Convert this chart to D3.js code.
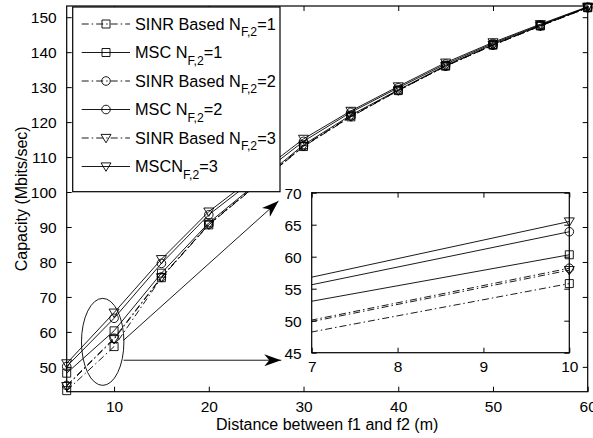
<!DOCTYPE html>
<html><head><meta charset="utf-8">
<script src="https://cdn.jsdelivr.net/npm/d3@7"></script>
<style>body{margin:0;background:#fff}svg{display:block}text{font-family:"Liberation Sans",Arial,Helvetica,sans-serif;fill:#000}</style>
</head><body><div id="chart"></div>
<script>
// ---- data ----
const distances = [5, 10, 15, 20, 30, 35, 40, 45, 50, 55, 60];
const sinr1 = [43.2, 55.8, 75.5, 90.6, 113.0, 121.5, 129.0, 136.0, 142.0, 147.5, 152.7];
const msc1  = [48.2, 60.3, 76.8, 91.2, 113.5, 122.0, 129.2, 136.2, 142.2, 147.6, 152.8];
const sinr2 = [44.7, 58.2, 75.7, 90.8, 113.2, 121.7, 129.1, 136.0, 142.0, 147.5, 152.7];
const msc2  = [50.1, 63.9, 79.6, 93.5, 114.5, 122.8, 129.8, 136.6, 142.5, 147.8, 152.9];
const sinr3 = [44.5, 57.9, 75.6, 90.7, 113.1, 121.6, 129.0, 136.0, 142.0, 147.5, 152.7];
const msc3  = [51.0, 65.5, 80.8, 94.4, 115.2, 123.2, 130.2, 137.0, 142.8, 148.0, 153.0];
const seriesNames = ["SINR Based N", "MSC N", "SINR Based N", "MSC N", "SINR Based N", "MSCN"];
const seriesSuffix = ["=1", "=1", "=2", "=2", "=3", "=3"];
const seriesMarkers = ["square", "square", "circle", "circle", "triangle", "triangle"];
const seriesDashed = [true, false, true, false, true, false];
const seriesValues = [sinr1, msc1, sinr2, msc2, sinr3, msc3];
const xTicks = [10, 20, 30, 40, 50, 60];
const yTicks = [50, 60, 70, 80, 90, 100, 110, 120, 130, 140, 150];
const insetXTicks = [7, 8, 9, 10];
const insetYTicks = [45, 50, 55, 60, 65, 70];
const xLabel = "Distance between f1 and f2 (m)";
const yLabel = "Capacity (Mbits/sec)";
// annotation in data coordinates
const zoomEllipse = {cx: 8.8, cy: 57.15, rx: 2.24, ry: 12.44};
const arrowH = {x1: 11.0, y1: 51.9, x2: 27.65, y2: 51.9};
const arrowD = {x1: 11.0, y1: 57.6, x2: 27.36, y2: 97.4};

const W = 593, H = 438;
const svg = d3.select("#chart").append("svg").attr("width", W).attr("height", H);
const series = seriesValues.map((v, i) => ({
  name: seriesNames[i], suffix: seriesSuffix[i], marker: seriesMarkers[i], dashed: seriesDashed[i],
  pts: distances.map((d, j) => ({x: d, y: v[j]}))
}));

const DASH = "7,3,1.5,3";
function markerPath(type) {
  if (type === "square") return "M-4,-4H4V4H-4Z";
  if (type === "circle") return d3.symbol(d3.symbolCircle, 58)();
  return "M-5,-3.6L5,-3.6L0,4.8Z";
}

function drawAxes(g, x, y, xt, yt, fs, tickLen, xLabBase) {
  const [x0, x1] = x.range(), [y1, y0] = y.range();
  const tk = tickLen;
  g.append("rect").attr("x", x0).attr("y", y0).attr("width", x1 - x0).attr("height", y1 - y0)
    .attr("fill", "none").attr("stroke", "#000").attr("stroke-width", 1.2);
  const bottom = d3.axisBottom(x).tickValues(xt).tickSize(-tk).tickPadding(tk + 5).tickFormat(d3.format("d"));
  const top = d3.axisTop(x).tickValues(xt).tickSize(-tk).tickFormat("");
  const left = d3.axisLeft(y).tickValues(yt).tickSize(-tk).tickPadding(tk + 5).tickFormat(d3.format("d"));
  const right = d3.axisRight(y).tickValues(yt).tickSize(-tk).tickFormat("");
  const ab = g.append("g").attr("transform", `translate(0,${y1})`).call(bottom);
  g.append("g").attr("transform", `translate(0,${y0})`).call(top);
  const al = g.append("g").attr("transform", `translate(${x0},0)`).call(left);
  g.append("g").attr("transform", `translate(${x1},0)`).call(right);
  g.selectAll(".domain").remove();
  g.selectAll(".tick line").attr("stroke", "#000");
  g.selectAll(".tick text").attr("font-size", fs).attr("font-family", '"Liberation Sans",Arial,sans-serif').attr("fill", "#000");
  ab.selectAll(".tick text").attr("dy", null).attr("y", xLabBase).attr("dominant-baseline", "auto");
  al.selectAll(".tick text").attr("dy", "0.35em");
}

function drawSeries(g, x, y, clipId, domainX) {
  const line = d3.line().x(d => x(d.x)).y(d => y(d.y));
  const lg = g.append("g").attr("clip-path", `url(#${clipId})`);
  series.forEach(s => {
    lg.append("path").attr("d", line(s.pts)).attr("fill", "none").attr("stroke", "#000")
      .attr("stroke-width", 0.9).attr("stroke-dasharray", s.dashed ? DASH : null);
  });
  const mg = g.append("g");
  series.forEach(s => {
    mg.selectAll(null).data(s.pts.filter(p => p.x >= domainX[0] && p.x <= domainX[1])).join("path")
      .attr("d", markerPath(s.marker))
      .attr("transform", d => `translate(${x(d.x)},${y(d.y)})`)
      .attr("fill", "none").attr("stroke", "#000").attr("stroke-width", 0.9);
  });
}

// ---- main axes ----
const x = d3.scaleLinear().domain([5, 60]).range([66.7, 587.7]);
const y = d3.scaleLinear().domain([42.9, 153.2]).range([391.7, 6]);
const defs = svg.append("defs");
defs.append("clipPath").attr("id", "clipMain").append("rect")
  .attr("x", 66.7).attr("y", 6).attr("width", 521).attr("height", 385.7);
const main = svg.append("g");
drawSeries(main, x, y, "clipMain", [5, 60]);

// annotation ellipse and arrows
defs.append("marker").attr("id", "ah").attr("viewBox", "0 0 17 12").attr("refX", 17).attr("refY", 6)
  .attr("markerWidth", 17).attr("markerHeight", 12).attr("markerUnits", "userSpaceOnUse").attr("orient", "auto")
  .append("path").attr("d", "M0,0L17,6L0,12L5,6Z").attr("fill", "#000");
main.append("ellipse").attr("cx", x(zoomEllipse.cx)).attr("cy", y(zoomEllipse.cy))
  .attr("rx", x(zoomEllipse.cx + zoomEllipse.rx) - x(zoomEllipse.cx))
  .attr("ry", y(zoomEllipse.cy) - y(zoomEllipse.cy + zoomEllipse.ry))
  .attr("fill", "none").attr("stroke", "#000").attr("stroke-width", 0.9);
[arrowH, arrowD].forEach(a => {
  main.append("line").attr("x1", x(a.x1)).attr("y1", y(a.y1)).attr("x2", x(a.x2)).attr("y2", y(a.y2))
    .attr("stroke", "#000").attr("stroke-width", 0.9).attr("marker-end", "url(#ah)");
});

drawAxes(main, x, y, xTicks, yTicks, 15.5, 5, 20);
main.append("text").attr("x", (66.7 + 587.7) / 2).attr("y", 430).attr("text-anchor", "middle")
  .attr("font-size", 16).text(xLabel);
main.append("text").attr("transform", `translate(27,${(6 + 391.7) / 2}) rotate(-90)`).attr("text-anchor", "middle")
  .attr("font-size", 16).text(yLabel);

// ---- legend ----
const leg = svg.append("g");
leg.append("rect").attr("x", 72.7).attr("y", 7).attr("width", 207.3).attr("height", 184.7)
  .attr("fill", "#fff").attr("stroke", "#000").attr("stroke-width", 1.2);
series.forEach((s, i) => {
  const base = 29.5 + i * 28.5, ly = base - 5.5;
  leg.append("line").attr("x1", 81.7).attr("x2", 130).attr("y1", ly).attr("y2", ly)
    .attr("stroke", "#000").attr("stroke-width", 0.9).attr("stroke-dasharray", s.dashed ? DASH : null);
  leg.append("path").attr("d", markerPath(s.marker)).attr("transform", `translate(106,${ly})`)
    .attr("fill", "none").attr("stroke", "#000").attr("stroke-width", 0.9);
  const t = leg.append("text").attr("x", 135).attr("y", base).attr("font-size", 16.3);
  t.append("tspan").text(s.name);
  t.append("tspan").attr("font-size", 12.2).attr("dy", 6.5).text("F,2");
  t.append("tspan").attr("font-size", 16.3).attr("dy", -6.5).text(s.suffix);
});

// ---- inset ----
const xi = d3.scaleLinear().domain([7, 10]).range([311.7, 569.3]);
const yi = d3.scaleLinear().domain([45, 70]).range([352.7, 192.7]);
defs.append("clipPath").attr("id", "clipInset").append("rect")
  .attr("x", 311.7).attr("y", 192.7).attr("width", 569.3 - 311.7).attr("height", 160);
const inset = svg.append("g");
inset.append("rect").attr("x", 311.7).attr("y", 192.7).attr("width", 569.3 - 311.7).attr("height", 160).attr("fill", "#fff");
drawSeries(inset, xi, yi, "clipInset", [7, 10]);
drawAxes(inset, xi, yi, insetXTicks, insetYTicks, 15.5, 5, 19);
</script></body></html>
